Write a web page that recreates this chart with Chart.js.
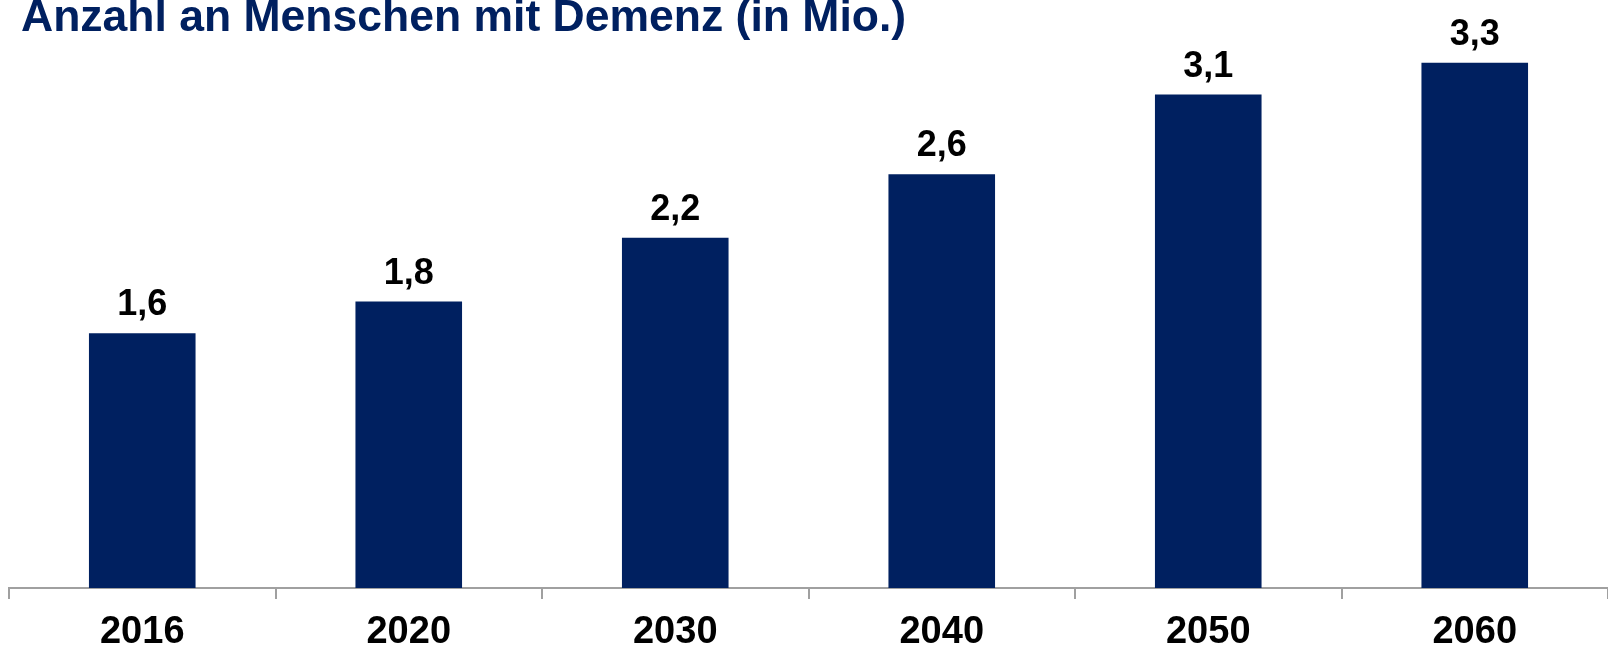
<!DOCTYPE html>
<html>
<head>
<meta charset="utf-8">
<script src="https://cdn.jsdelivr.net/npm/chart.js@4/dist/chart.umd.min.js"></script>
<style>
  html, body { margin: 0; padding: 0; background: #fff; }
  #wrap { width: 1608px; height: 646px; }
</style>
</head>
<body>
<div id="wrap"><canvas id="demenz"></canvas></div>
<script>
// ---- data ----
const years = ["2016", "2020", "2030", "2040", "2050", "2060"];
const millions = [1.6, 1.8, 2.2, 2.6, 3.1, 3.3];
const titleText = "Anzahl an Menschen mit Demenz (in Mio.)";

const navy = "#002060";
const fontFam = "'Liberation Sans', Arial, sans-serif";

// title (top is clipped in the original)
const titlePlugin = {
  id: "topTitle",
  afterDraw(chart) {
    const ctx = chart.ctx;
    ctx.save();
    ctx.font = "bold 44.5px " + fontFam;
    ctx.fillStyle = navy;
    ctx.textAlign = "left";
    ctx.textBaseline = "alphabetic";
    ctx.fillText(titleText, 21, 31);
    ctx.restore();
  }
};

// value labels above the bars + year labels under the axis
const textPlugin = {
  id: "barTexts",
  afterDatasetsDraw(chart) {
    const ctx = chart.ctx;
    const meta = chart.getDatasetMeta(0);
    const xs = chart.scales.x;
    ctx.save();
    ctx.fillStyle = "#000";
    ctx.textAlign = "center";
    ctx.textBaseline = "alphabetic";
    ctx.font = "bold 36px " + fontFam;
    meta.data.forEach((bar, i) => {
      const txt = millions[i].toFixed(1).replace(".", ",");
      ctx.fillText(txt, bar.x, bar.y - 18);
    });
    ctx.font = "bold 38px " + fontFam;
    years.forEach((yr, i) => {
      ctx.fillText(yr, xs.getPixelForTick(i), 643);
    });
    ctx.restore();
  }
};

new Chart(document.getElementById("demenz"), {
  type: "bar",
  data: {
    labels: years,
    datasets: [{
      data: millions,
      backgroundColor: navy,
      borderWidth: 0,
      barPercentage: 0.4,
      categoryPercentage: 1.0
    }]
  },
  options: {
    responsive: true,
    maintainAspectRatio: false,
    animation: false,
    layout: { padding: { top: 15, left: 9, right: 0, bottom: 47 } },
    plugins: {
      legend: { display: false },
      title: { display: false },
      tooltip: { enabled: false }
    },
    scales: {
      x: {
        border: { display: true, color: "#a0a0a0", width: 2 },
        grid: {
          display: true,
          drawOnChartArea: false,
          drawTicks: true,
          tickLength: 11,
          color: "#a0a0a0",
          lineWidth: 2
        },
        ticks: { display: false }
      },
      y: {
        display: false,
        min: 0,
        max: 3.6
      }
    }
  },
  plugins: [titlePlugin, textPlugin]
});
</script>
</body>
</html>
